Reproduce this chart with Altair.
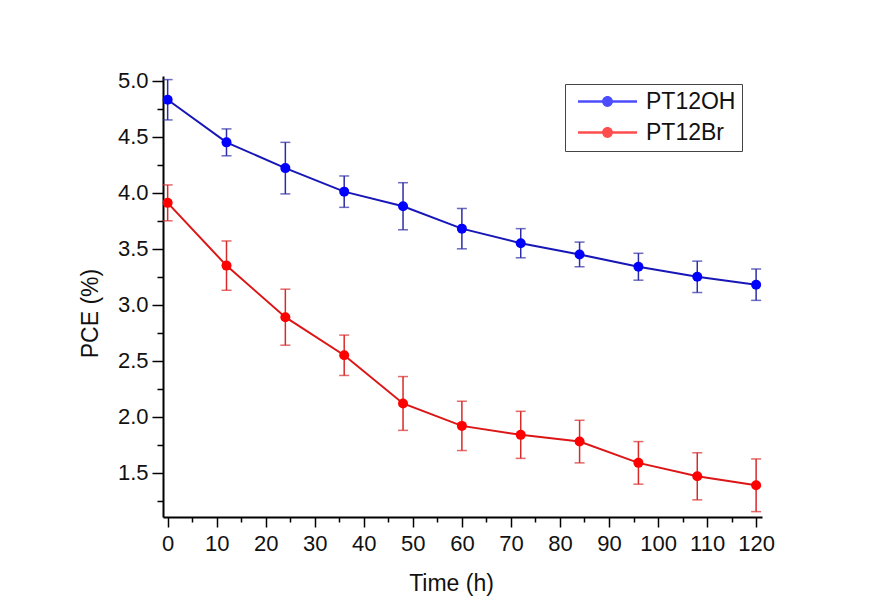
import altair as alt
import pandas as pd

times = [0, 12, 24, 36, 48, 60, 72, 84, 96, 108, 120]
oh_pce = [4.83, 4.45, 4.22, 4.01, 3.88, 3.68, 3.55, 3.45, 3.34, 3.25, 3.18]
oh_err = [0.18, 0.12, 0.23, 0.14, 0.21, 0.18, 0.13, 0.11, 0.12, 0.14, 0.14]
br_pce = [3.91, 3.35, 2.89, 2.55, 2.12, 1.92, 1.84, 1.78, 1.59, 1.47, 1.39]
br_err = [0.16, 0.22, 0.25, 0.18, 0.24, 0.22, 0.21, 0.19, 0.19, 0.21, 0.235]
series = ["PT12OH", "PT12Br"]
point_colors = ["#0000ff", "#ff0000"]
line_colors = ["#1717b8", "#dc1616"]
bar_colors = ["#2c2ca6", "#d92a2a"]
y_major = [1.5, 2.0, 2.5, 3.0, 3.5, 4.0, 4.5, 5.0]
y_minor = [1.25, 1.75, 2.25, 2.75, 3.25, 3.75, 4.25, 4.75]
x_major = list(range(0, 121, 10))
x_minor = list(range(5, 121, 10))

rows = []
for s, vals, errs, lc, bc in [
    (series[0], oh_pce, oh_err, line_colors[0], bar_colors[0]),
    (series[1], br_pce, br_err, line_colors[1], bar_colors[1]),
]:
    for t, v, e in zip(times, vals, errs):
        rows.append({"series": s, "time": t, "pce": v, "lo": v - e, "hi": v + e,
                     "lc": lc, "bc": bc})
df = pd.DataFrame(rows)

FONT = "Liberation Sans"
xscale = alt.Scale(domain=[-0.95, 121.2], nice=False, zero=False)
yscale = alt.Scale(domain=[1.107, 5.042], nice=False, zero=False)

x_major_axis = alt.Axis(orient="bottom", values=x_major, tickSize=10, tickWidth=1.5,
                        tickColor="black", domainColor="black", domainWidth=2,
                        labelFont=FONT, labelFontSize=22, labelColor="#111", labelPadding=6,
                        grid=False, title="Time (h)", titleFont=FONT, titleFontSize=23,
                        titleFontWeight="normal", titleColor="#111", titleX=288, titleY=73,
                        titleBaseline="alphabetic", labelFlush=False, labelOverlap=False)
y_major_axis = alt.Axis(orient="left", values=y_major, format=".1f", tickSize=11,
                        tickWidth=1.5, tickColor="black", domainColor="black", domainWidth=2,
                        labelFont=FONT, labelFontSize=22, labelColor="#111", labelPadding=4,
                        grid=False, title="PCE (%)", titleFont=FONT, titleFontSize=23,
                        titleFontWeight="normal", titleColor="#111", titleX=-66, titleY=237,
                        titleBaseline="alphabetic", titleAngle=270, titleAlign="center",
                        labelFlush=False, labelOverlap=False)
x_minor_axis = alt.Axis(values=x_minor, tickSize=5, tickWidth=1.5, tickColor="black",
                        domain=False, labels=False, grid=False, title=None, orient="bottom")
y_minor_axis = alt.Axis(values=y_minor, tickSize=6, tickWidth=1.5, tickColor="black",
                        domain=False, labels=False, grid=False, title=None, orient="left")

base = alt.Chart(df)

bars = base.mark_rule(strokeWidth=1.5).encode(
    x=alt.X("time:Q", scale=xscale, axis=x_minor_axis),
    y=alt.Y("lo:Q", scale=yscale, axis=y_minor_axis),
    y2="hi:Q",
    color=alt.Color("bc:N", scale=None),
)
caps_hi = base.mark_tick(orient="horizontal", size=10, thickness=1.5).encode(
    x=alt.X("time:Q", scale=xscale, axis=None),
    y=alt.Y("hi:Q", scale=yscale, axis=None),
    color=alt.Color("bc:N", scale=None),
)
caps_lo = base.mark_tick(orient="horizontal", size=10, thickness=1.5).encode(
    x=alt.X("time:Q", scale=xscale, axis=None),
    y=alt.Y("lo:Q", scale=yscale, axis=None),
    color=alt.Color("bc:N", scale=None),
)
lines = base.mark_line(strokeWidth=2).encode(
    x=alt.X("time:Q", scale=xscale, axis=x_major_axis),
    y=alt.Y("pce:Q", scale=yscale, axis=y_major_axis),
    color=alt.Color("lc:N", scale=None),
    detail="series:N",
)
legend_path = ("M-5.9,-0.25L5.9,-0.25L5.9,0.25L-5.9,0.25Z"
               "M-1.08,0A1.08,1.08,0,1,1,1.08,0A1.08,1.08,0,1,1,-1.08,0Z")
points = base.mark_point(filled=True, size=100, opacity=1, fillOpacity=1,
                         shape="circle").encode(
    x=alt.X("time:Q", scale=xscale, axis=None),
    y=alt.Y("pce:Q", scale=yscale, axis=None),
    color=alt.Color("series:N",
                    scale=alt.Scale(domain=series, range=point_colors),
                    legend=alt.Legend(title=None, orient="none", legendX=402, legendY=8,
                                      symbolType=legend_path, symbolSize=100,
                                      symbolStrokeWidth=0, symbolStrokeColor="transparent",
                                      symbolOpacity=1,
                                      labelFont=FONT, labelFontSize=23, labelColor="#111",
                                      labelOffset=27, symbolOffset=25, rowPadding=7,
                                      padding=6, strokeColor="#444", fillColor="white",
                                      cornerRadius=0)),
)

chart = alt.layer(bars, caps_hi, caps_lo, lines, points).resolve_axis(
    x="independent", y="independent"
).properties(
    width=599, height=441,
    padding={"left": 155, "top": 68, "right": 104, "bottom": 88},
    autosize=alt.AutoSizeParams(type="none"),
    background="white",
).configure_view(stroke=None)

chart.save("out.html", embed_options={"renderer": "svg", "actions": False})
